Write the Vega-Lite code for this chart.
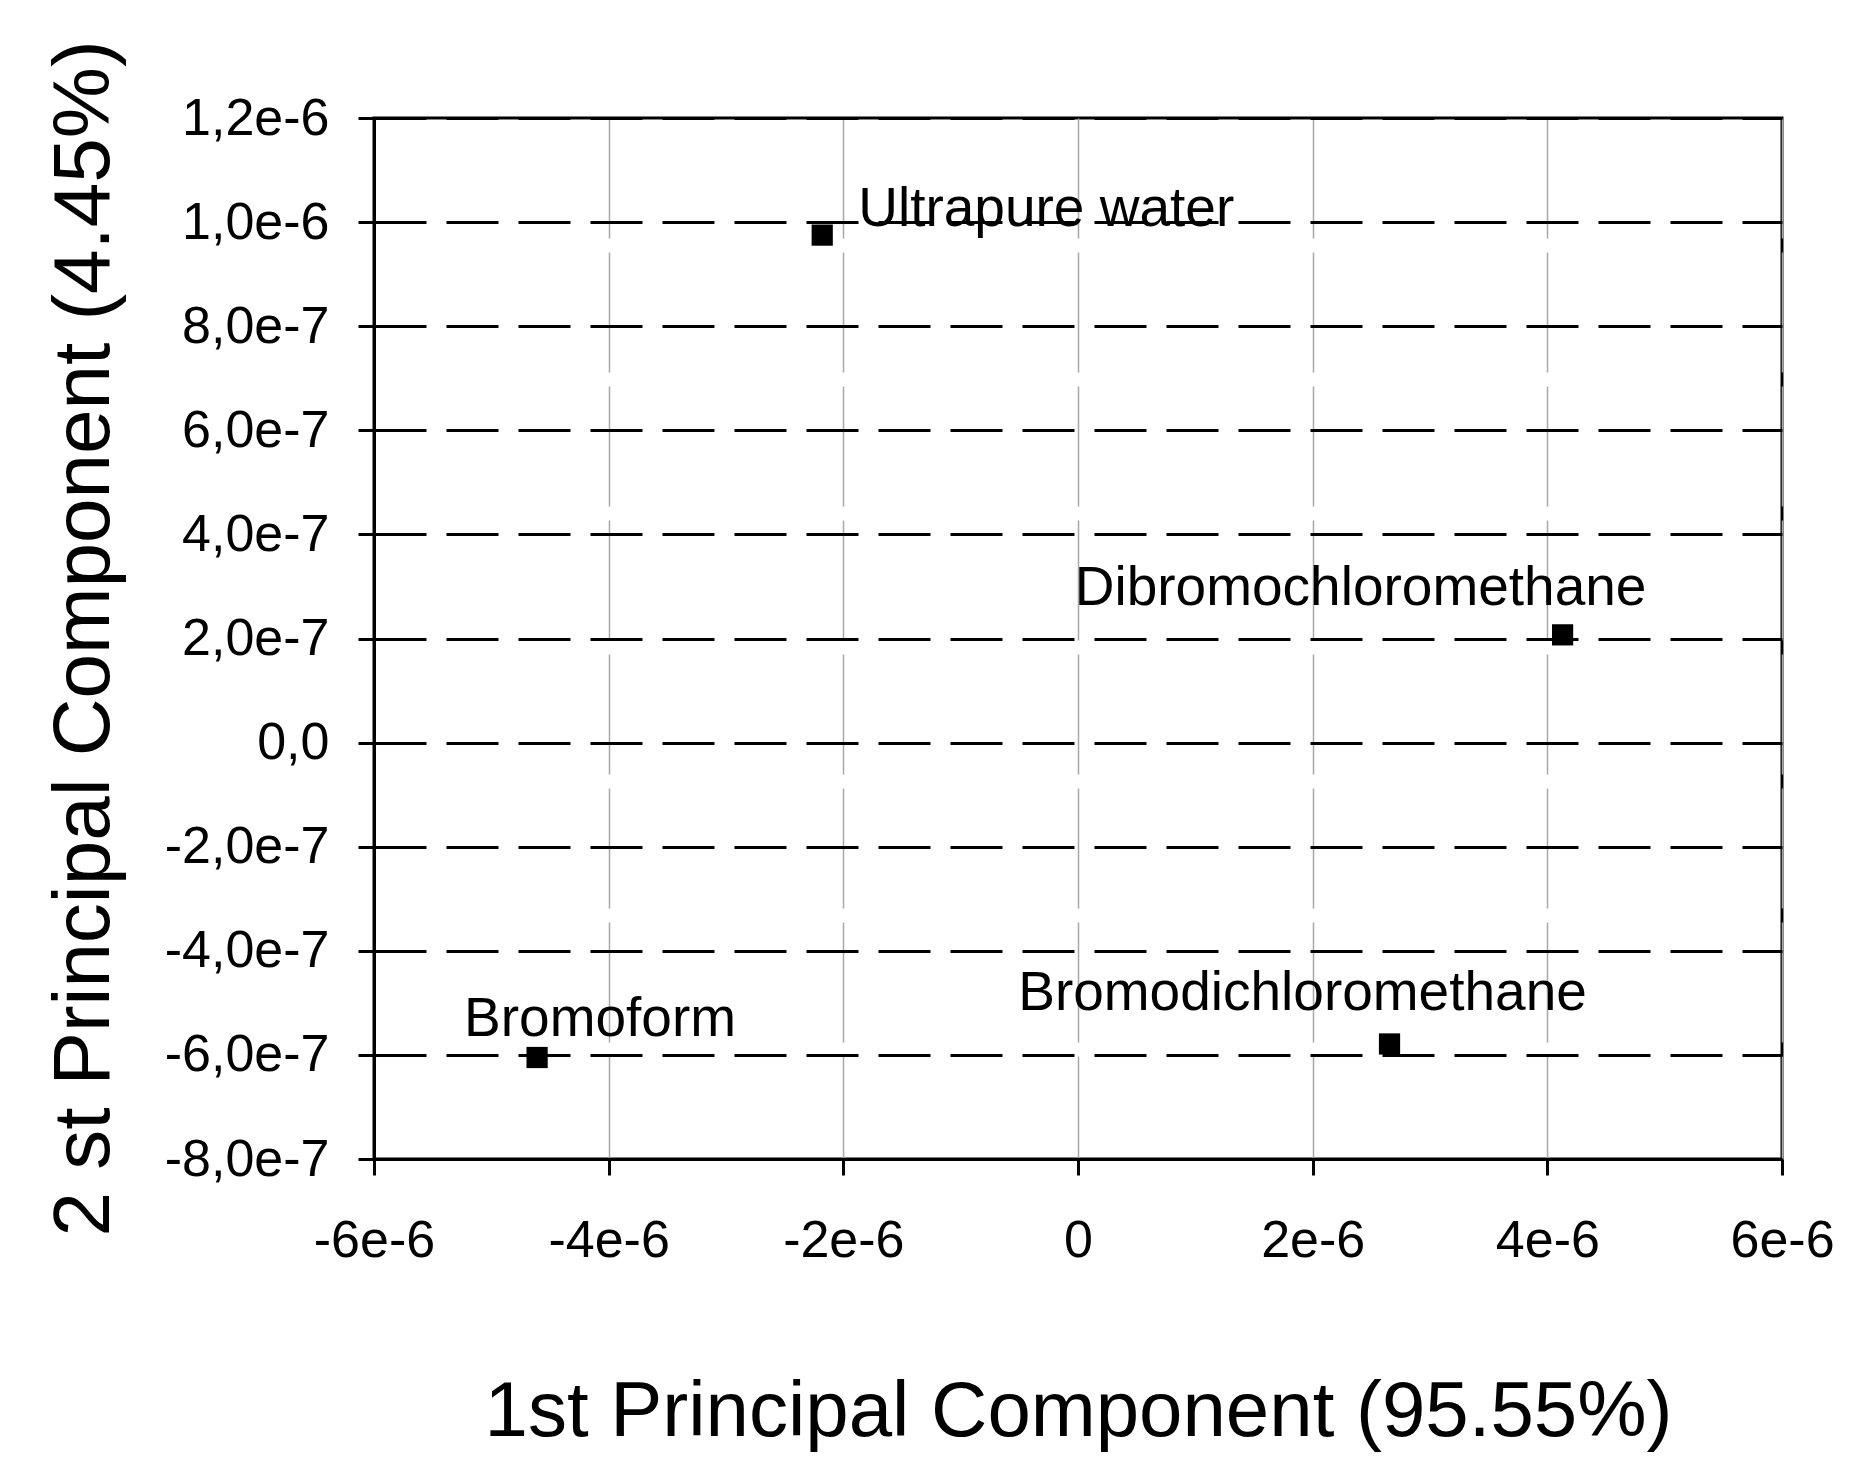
{
  "$schema": "https://vega.github.io/schema/vega-lite/v6.json",
  "width": 1408,
  "height": 1041,
  "autosize": {"type": "none"},
  "padding": {"left": 374, "top": 118, "right": 94, "bottom": 325},
  "background": "white",
  "config": {
    "view": {"stroke": "black", "strokeWidth": 3},
    "font": "Liberation Sans"
  },
  "data": {
    "values": [
      {"name": "Ultrapure water", "pc1": -2.18e-6, "pc2": 9.75e-7},
      {"name": "Dibromochloromethane", "pc1": 4.13e-6, "pc2": 2.07e-7},
      {"name": "Bromodichloromethane", "pc1": 2.655e-6, "pc2": -5.79e-7},
      {"name": "Bromoform", "pc1": -4.61e-6, "pc2": -6.05e-7}
    ]
  },
  "encoding": {
    "x": {
      "field": "pc1",
      "type": "quantitative",
      "scale": {"domain": [-6e-6, 6e-6], "nice": false, "zero": false},
      "axis": {
        "values": [-6e-6, -4e-6, -2e-6, 0, 2e-6, 4e-6, 6e-6],
        "labelExpr": "datum.value == 0 ? '0' : replace(format(datum.value, '.0e'), '\u2212', '-')",
        "labelFont": "Liberation Sans",
        "labelFontSize": 52,
        "labelColor": "black",
        "labelPadding": 40,
        "labelFlush": false,
        "labelOverlap": false,
        "tickSize": 16,
        "tickWidth": 3,
        "tickColor": "black",
        "domainColor": "black",
        "domainWidth": 3,
        "grid": true,
        "gridColor": "#a8a8a8",
        "gridWidth": 1.5,
        "gridDash": [120, 14],
        "title": "1st Principal Component (95.55%)",
        "titleFont": "Liberation Sans",
        "titleFontSize": 78,
        "titleFontWeight": "normal",
        "titleColor": "black",
        "titleAlign": "center",
        "titleBaseline": "alphabetic",
        "titleX": 704,
        "titleY": 276
      }
    },
    "y": {
      "field": "pc2",
      "type": "quantitative",
      "scale": {"domain": [-8e-7, 1.2e-6], "nice": false, "zero": false},
      "axis": {
        "values": [-8e-7, -6e-7, -4e-7, -2e-7, 0, 2e-7, 4e-7, 6e-7, 8e-7, 1e-6, 1.2e-6],
        "labelExpr": "datum.value == 0 ? '0,0' : replace(replace(format(datum.value, '.1e'), '.', ','), '\u2212', '-')",
        "labelFont": "Liberation Sans",
        "labelFontSize": 52,
        "labelColor": "black",
        "labelPadding": 29,
        "labelFlush": false,
        "labelOverlap": false,
        "tickSize": 16,
        "tickWidth": 3,
        "tickColor": "black",
        "domainColor": "black",
        "domainWidth": 3,
        "grid": true,
        "gridColor": "black",
        "gridWidth": 3,
        "gridDash": [52, 20],
        "title": "2 st Principal Component (4.45%)",
        "titleFont": "Liberation Sans",
        "titleFontSize": 80,
        "titleFontWeight": "normal",
        "titleColor": "black",
        "titleAngle": -90,
        "titleAlign": "center",
        "titleBaseline": "alphabetic",
        "titleX": -266,
        "titleY": 520
      }
    }
  },
  "layer": [
    {
      "mark": {"type": "point", "shape": "square", "filled": true, "color": "black", "size": 450, "opacity": 1}
    },
    {
      "transform": [{"filter": "datum.name == 'Ultrapure water'"}],
      "mark": {"type": "text", "fontSize": 55, "font": "Liberation Sans", "color": "black", "align": "center", "baseline": "middle", "dx": 224, "dy": -26},
      "encoding": {"text": {"field": "name"}}
    },
    {
      "transform": [{"filter": "datum.name == 'Dibromochloromethane'"}],
      "mark": {"type": "text", "fontSize": 55, "font": "Liberation Sans", "color": "black", "align": "center", "baseline": "middle", "dx": -202, "dy": -47},
      "encoding": {"text": {"field": "name"}}
    },
    {
      "transform": [{"filter": "datum.name == 'Bromodichloromethane'"}],
      "mark": {"type": "text", "fontSize": 55, "font": "Liberation Sans", "color": "black", "align": "center", "baseline": "middle", "dx": -87, "dy": -51},
      "encoding": {"text": {"field": "name"}}
    },
    {
      "transform": [{"filter": "datum.name == 'Bromoform'"}],
      "mark": {"type": "text", "fontSize": 55, "font": "Liberation Sans", "color": "black", "align": "center", "baseline": "middle", "dx": 63, "dy": -39},
      "encoding": {"text": {"field": "name"}}
    }
  ]
}
